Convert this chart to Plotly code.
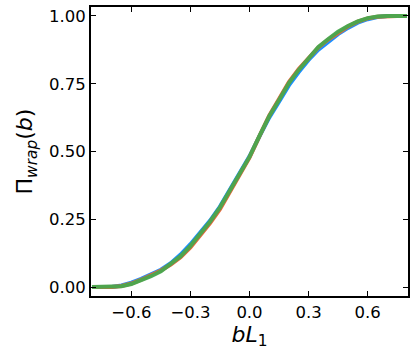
import plotly.graph_objects as go

x_vals = [-0.80, -0.75, -0.70, -0.65, -0.60, -0.55, -0.50, -0.45, -0.40, -0.35, -0.30,
          -0.25, -0.20, -0.15, -0.10, -0.05, 0.00, 0.05, 0.10, 0.15, 0.20, 0.25,
          0.30, 0.35, 0.40, 0.45, 0.50, 0.55, 0.60, 0.65, 0.70, 0.75, 0.80]

series_blue = [0.0, 0.0, 0.0, 0.006, 0.016, 0.030, 0.046, 0.064, 0.088, 0.120, 0.158,
               0.200, 0.245, 0.297, 0.360, 0.422, 0.482, 0.555, 0.625, 0.684, 0.744, 0.793,
               0.838, 0.876, 0.906, 0.933, 0.956, 0.975, 0.988, 0.996, 1.0, 1.0, 1.0]
series_orange = [0.0, 0.0, 0.0, 0.004, 0.013, 0.027, 0.044, 0.061, 0.083, 0.110, 0.146,
                 0.190, 0.236, 0.287, 0.352, 0.418, 0.478, 0.556, 0.632, 0.694, 0.756, 0.804,
                 0.846, 0.884, 0.913, 0.939, 0.961, 0.979, 0.991, 0.997, 1.0, 1.0, 1.0]
series_green = [0.0, 0.0, 0.0, 0.003, 0.011, 0.024, 0.040, 0.058, 0.084, 0.114, 0.152,
                0.196, 0.242, 0.294, 0.356, 0.420, 0.480, 0.557, 0.630, 0.690, 0.752, 0.801,
                0.846, 0.886, 0.915, 0.942, 0.963, 0.980, 0.992, 0.998, 1.0, 1.0, 1.0]

x_ticks = [-0.6, -0.3, 0.0, 0.3, 0.6]
x_tick_text = ["\u22120.6", "\u22120.3", "0.0", "0.3", "0.6"]
y_ticks = [0.0, 0.25, 0.5, 0.75, 1.0]
y_tick_text = ["0.00", "0.25", "0.50", "0.75", "1.00"]

colors = ["#1a8fff", "#e8673a", "#47a84f"]
names = ["blue", "orange", "green"]

fig = go.Figure()
for ys, c, n, op in zip([series_blue, series_orange, series_green], colors, names, [1.0, 1.0, 0.95]):
    fig.add_trace(go.Scatter(x=x_vals, y=ys, mode="lines", name=n, opacity=op,
                             line=dict(color=c, width=4), showlegend=False))

font = "DejaVu Sans"
axis_common = dict(
    showgrid=False, zeroline=False, showline=True, linecolor="black", linewidth=2,
    mirror="ticks", ticks="inside", ticklen=5, tickwidth=1, tickcolor="black",
    tickfont=dict(family=font, size=16.5, color="black"),
)
fig.update_layout(
    width=415, height=360,
    margin=dict(l=91, r=5, t=5, b=64),
    paper_bgcolor="white", plot_bgcolor="white",
    font=dict(family=font, color="black"),
    xaxis=dict(range=[-0.805, 0.805], tickvals=x_ticks, ticktext=x_tick_text,
               title=dict(text="<i>bL</i><sub>1</sub>", font=dict(family=font, size=22, color="black"),
                          standoff=4),
               **axis_common),
    yaxis=dict(range=[-0.033, 1.033], tickvals=y_ticks, ticktext=y_tick_text,
               title=dict(text="\u03a0<sub><i>wrap</i></sub>(<i>b</i>)",
                          font=dict(family=font, size=22, color="black"), standoff=10),
               **axis_common),
)
fig.write_html("out.html", config={"displayModeBar": False},
               post_script="document.body.style.margin='0';")
